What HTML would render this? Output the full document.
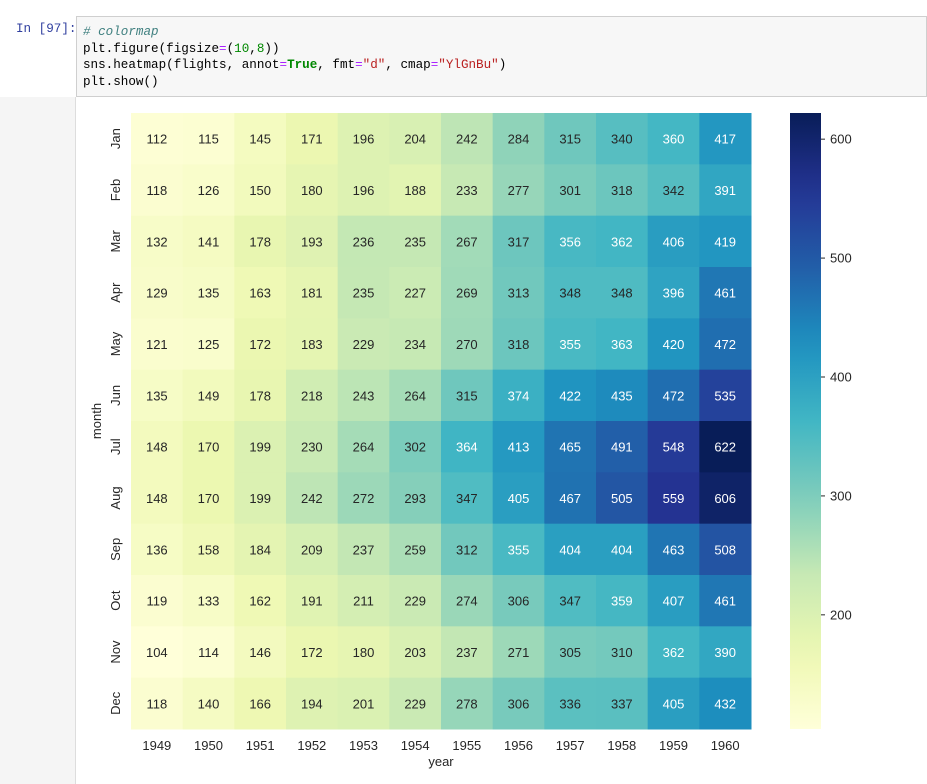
<!DOCTYPE html>
<html><head><meta charset="utf-8"><style>
body{margin:0;width:927px;height:784px;background:#fff;overflow:hidden;position:relative;font-family:"Liberation Sans",sans-serif}
.code{position:absolute;left:76px;top:16px;width:851px;height:81px;background:#f7f7f7;border:1px solid #cfcfcf;box-sizing:border-box;font-family:"Liberation Mono",monospace;font-size:12.6px;line-height:16.5px;padding:7px 6px;color:#000;white-space:pre}
.prompt{position:absolute;left:16px;top:22px;font-family:"Liberation Mono",monospace;font-size:12.6px;color:#303f9f}
.gutter{position:absolute;left:0;top:97px;width:75px;height:687px;background:#f5f5f5;border-right:1px solid #ddd}
</style></head><body>
<div class="prompt">In [97]:</div>
<div class="code"><span style="color:#408080;font-style:italic"># colormap</span>
plt.figure(figsize<span style="color:#a2f">=</span>(<span style="color:#080">10</span>,<span style="color:#080">8</span>))
sns.heatmap(flights, annot<span style="color:#a2f">=</span><span style="color:#080;font-weight:bold">True</span>, fmt<span style="color:#a2f">=</span><span style="color:#ba2121">"d"</span>, cmap<span style="color:#a2f">=</span><span style="color:#ba2121">"YlGnBu"</span>)
plt.show()</div>
<div class="gutter"></div>
<svg id="chart" width="927" height="784" style="position:absolute;left:0;top:0"></svg>
<script>
const years=["1949","1950","1951","1952","1953","1954","1955","1956","1957","1958","1959","1960"];
const months=["Jan","Feb","Mar","Apr","May","Jun","Jul","Aug","Sep","Oct","Nov","Dec"];
const values=[
[112,115,145,171,196,204,242,284,315,340,360,417],
[118,126,150,180,196,188,233,277,301,318,342,391],
[132,141,178,193,236,235,267,317,356,362,406,419],
[129,135,163,181,235,227,269,313,348,348,396,461],
[121,125,172,183,229,234,270,318,355,363,420,472],
[135,149,178,218,243,264,315,374,422,435,472,535],
[148,170,199,230,264,302,364,413,465,491,548,622],
[148,170,199,242,272,293,347,405,467,505,559,606],
[136,158,184,209,237,259,312,355,404,404,463,508],
[119,133,162,191,211,229,274,306,347,359,407,461],
[104,114,146,172,180,203,237,271,305,310,362,390],
[118,140,166,194,201,229,278,306,336,337,405,432]];
const cbTicks=[200,300,400,500,600];
const NS="http://www.w3.org/2000/svg";
const svg=document.getElementById('chart');
const L=131,R=751,T=113,B=729,CL=790,CR=821;
const flat=values.flat(),vmin=Math.min(...flat),vmax=Math.max(...flat);
const stops=["#ffffd9","#edf8b1","#c7e9b4","#7fcdbb","#41b6c4","#1d91c0","#225ea8","#253494","#081d58"].map(h=>[1,3,5].map(i=>parseInt(h.substr(i,2),16)));
function cmap(t){t=Math.max(0,Math.min(1,t));const p=t*8,i=Math.min(7,Math.floor(p)),f=p-i;return stops[i].map((c,k)=>c+(stops[i+1][k]-c)*f);}
function lum(c){const l=c.map(v=>{v/=255;return v<=0.03928?v/12.92:Math.pow((v+0.055)/1.055,2.4)});return 0.2126*l[0]+0.7152*l[1]+0.0722*l[2];}
const cw=(R-L)/years.length,ch=(B-T)/months.length;
const xs=i=>L+i*cw, ys=j=>T+j*ch;
function mk(tag,a){const e=document.createElementNS(NS,tag);for(const k in a)e.setAttribute(k,a[k]);svg.appendChild(e);return e;}
values.forEach((row,j)=>row.forEach((v,i)=>{
 const c=cmap((v-vmin)/(vmax-vmin));
 const r=mk('rect',{x:xs(i),y:ys(j),width:cw+0.5,height:ch+0.5,fill:`rgb(${c.map(Math.round)})`});
 
 
 const t=mk('text',{x:xs(i)+cw/2,y:ys(j)+ch/2+5,'text-anchor':'middle','font-size':13,fill:lum(c)>0.408?'#262626':'#fff'});
 t.textContent=v;
 
 
}));
years.forEach((y,i)=>{const t=mk('text',{x:xs(i)+cw/2,y:B+21,'text-anchor':'middle','font-size':13,fill:'#262626'});t.textContent=y;
 
 });
months.forEach((m,j)=>{const cy=ys(j)+ch/2;const t=mk('text',{x:0,y:0,transform:`translate(120,${cy}) rotate(-90)`,'text-anchor':'middle','font-size':13,fill:'#262626'});t.textContent=m;
 
 });
let t=mk('text',{x:(L+R)/2,y:766,'text-anchor':'middle','font-size':13,fill:'#262626'});t.textContent='year';


t=mk('text',{x:0,y:0,transform:`translate(101,${(T+B)/2}) rotate(-90)`,'text-anchor':'middle','font-size':13,fill:'#262626'});t.textContent='month';


const defs=mk('defs',{});const g=document.createElementNS(NS,'linearGradient');g.setAttribute('id','cb');g.setAttribute('x1',0);g.setAttribute('y1',1);g.setAttribute('x2',0);g.setAttribute('y2',0);defs.appendChild(g);
for(let k=0;k<=20;k++){const s=document.createElementNS(NS,'stop');s.setAttribute('offset',k/20);s.setAttribute('stop-color',`rgb(${cmap(k/20).map(Math.round)})`);g.appendChild(s);}
const cb=mk('rect',{x:CL,y:T,width:CR-CL,height:B-T,fill:'url(#cb)'});


const cy=v=>B-(v-vmin)/(vmax-vmin)*(B-T);
cbTicks.forEach(v=>{mk('line',{x1:CR,x2:CR+4,y1:cy(v),y2:cy(v),stroke:'#262626'});
 const tt=mk('text',{x:CR+9,y:cy(v)+4.5,'font-size':13,fill:'#262626'});tt.textContent=v;
 
 });
</script>
</body></html>
